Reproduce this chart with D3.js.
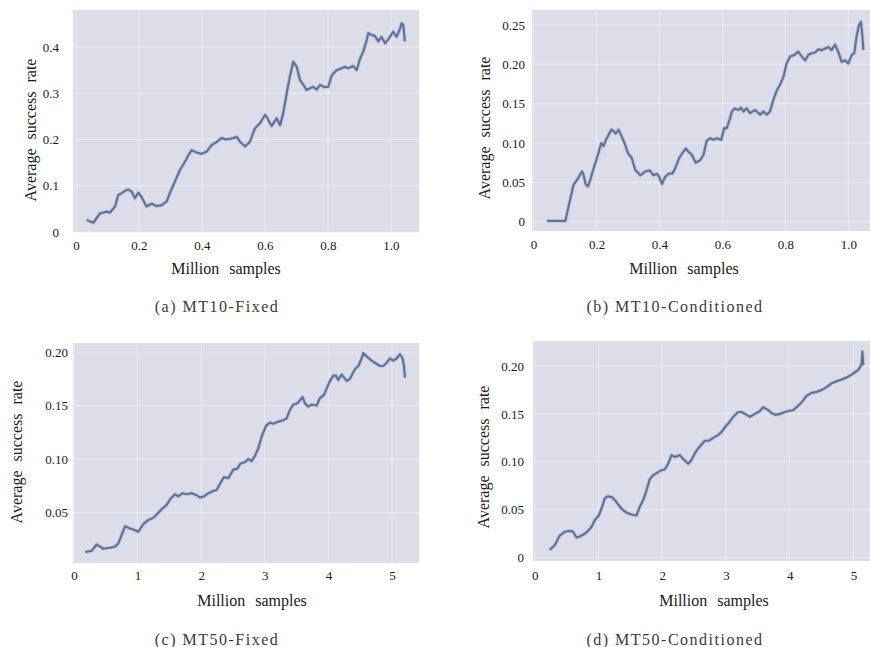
<!DOCTYPE html>
<html><head><meta charset="utf-8">
<script src="https://cdn.jsdelivr.net/npm/d3@7"></script>
<style>
html,body{margin:0;padding:0;background:#fff;}
</style></head>
<body><svg id="c" width="870" height="647"></svg>
<script>
// ---------- data ----------
const aX = [0.034,0.055,0.076,0.097,0.108,0.124,0.134,0.145,0.156,0.166,0.177,0.187,0.198,0.208,0.224,0.240,0.256,0.272,0.288,0.298,0.314,0.330,0.346,0.357,0.367,0.383,0.399,0.415,0.431,0.447,0.462,0.478,0.499,0.510,0.521,0.537,0.552,0.568,0.584,0.600,0.605,0.621,0.637,0.648,0.658,0.669,0.679,0.690,0.701,0.711,0.722,0.732,0.743,0.753,0.764,0.775,0.790,0.801,0.812,0.828,0.843,0.854,0.865,0.880,0.891,0.902,0.912,0.923,0.928,0.939,0.949,0.960,0.970,0.981,0.992,1.007,1.018,1.029,1.034,1.039,1.044];
const aY = [0.026,0.020,0.040,0.044,0.042,0.055,0.080,0.084,0.089,0.092,0.087,0.073,0.085,0.076,0.055,0.061,0.056,0.058,0.066,0.084,0.109,0.134,0.152,0.166,0.177,0.172,0.169,0.174,0.188,0.195,0.203,0.200,0.203,0.206,0.195,0.185,0.195,0.224,0.235,0.253,0.249,0.229,0.246,0.231,0.257,0.300,0.336,0.368,0.357,0.329,0.318,0.307,0.311,0.314,0.308,0.318,0.313,0.314,0.339,0.350,0.354,0.357,0.354,0.359,0.350,0.375,0.390,0.415,0.430,0.426,0.424,0.412,0.422,0.408,0.417,0.433,0.422,0.440,0.451,0.448,0.412];

const bX = [0.042,0.101,0.111,0.127,0.138,0.154,0.159,0.166,0.173,0.180,0.191,0.206,0.215,0.222,0.230,0.238,0.247,0.254,0.261,0.270,0.278,0.289,0.300,0.312,0.323,0.339,0.355,0.370,0.381,0.392,0.399,0.408,0.418,0.429,0.441,0.450,0.463,0.476,0.484,0.492,0.503,0.515,0.529,0.540,0.550,0.561,0.572,0.582,0.596,0.606,0.614,0.624,0.630,0.640,0.651,0.659,0.667,0.677,0.688,0.704,0.720,0.730,0.741,0.751,0.762,0.773,0.783,0.794,0.804,0.815,0.829,0.841,0.852,0.863,0.873,0.884,0.894,0.905,0.915,0.926,0.937,0.947,0.958,0.968,0.979,0.990,1.000,1.011,1.019,1.027,1.034,1.040,1.045,1.048];
const bY = [0.001,0.001,0.019,0.047,0.053,0.064,0.059,0.047,0.045,0.053,0.068,0.087,0.100,0.096,0.104,0.110,0.117,0.115,0.112,0.117,0.110,0.100,0.087,0.081,0.066,0.059,0.064,0.065,0.059,0.061,0.057,0.048,0.057,0.061,0.061,0.068,0.081,0.089,0.093,0.089,0.085,0.075,0.078,0.085,0.103,0.106,0.104,0.106,0.104,0.119,0.119,0.131,0.140,0.144,0.142,0.145,0.140,0.144,0.138,0.142,0.136,0.140,0.136,0.140,0.155,0.167,0.174,0.184,0.201,0.210,0.212,0.216,0.210,0.205,0.212,0.214,0.215,0.219,0.218,0.220,0.222,0.218,0.225,0.216,0.203,0.205,0.201,0.212,0.214,0.237,0.250,0.254,0.235,0.218];

const cX = [0.173,0.278,0.356,0.409,0.461,0.566,0.645,0.697,0.750,0.802,0.881,0.933,1.011,1.090,1.169,1.247,1.300,1.378,1.457,1.520,1.588,1.640,1.709,1.771,1.850,1.929,1.981,2.044,2.112,2.191,2.243,2.306,2.358,2.427,2.505,2.568,2.621,2.689,2.741,2.794,2.846,2.898,2.951,3.019,3.082,3.134,3.213,3.281,3.344,3.396,3.449,3.511,3.553,3.595,3.632,3.684,3.737,3.816,3.868,3.931,3.973,4.025,4.078,4.119,4.156,4.209,4.235,4.287,4.340,4.382,4.418,4.471,4.523,4.549,4.602,4.680,4.733,4.811,4.864,4.916,4.969,5.021,5.073,5.126,5.168,5.189,5.204];
const cY = [0.013,0.014,0.020,0.018,0.016,0.017,0.018,0.021,0.029,0.037,0.035,0.034,0.032,0.039,0.043,0.045,0.048,0.053,0.057,0.063,0.067,0.065,0.068,0.067,0.068,0.066,0.064,0.065,0.068,0.070,0.071,0.078,0.083,0.082,0.090,0.091,0.096,0.097,0.100,0.098,0.103,0.110,0.121,0.131,0.134,0.133,0.135,0.136,0.138,0.146,0.151,0.152,0.155,0.158,0.152,0.149,0.151,0.150,0.157,0.160,0.166,0.173,0.178,0.178,0.174,0.179,0.177,0.173,0.175,0.180,0.184,0.187,0.194,0.199,0.196,0.192,0.190,0.187,0.187,0.190,0.194,0.192,0.194,0.198,0.194,0.187,0.176];

const dX = [0.235,0.314,0.392,0.471,0.549,0.602,0.654,0.706,0.785,0.837,0.890,0.942,1.005,1.057,1.099,1.151,1.214,1.282,1.361,1.439,1.518,1.596,1.648,1.701,1.753,1.805,1.858,1.910,1.978,2.041,2.093,2.146,2.198,2.276,2.329,2.407,2.459,2.512,2.564,2.616,2.669,2.732,2.800,2.878,2.930,2.983,3.035,3.114,3.192,3.244,3.297,3.375,3.454,3.532,3.584,3.663,3.715,3.778,3.846,3.925,3.977,4.055,4.108,4.186,4.265,4.343,4.422,4.500,4.579,4.657,4.736,4.814,4.893,4.971,5.034,5.076,5.102,5.128,5.139,5.154];
const dY = [0.008,0.013,0.023,0.027,0.028,0.027,0.021,0.022,0.025,0.028,0.032,0.039,0.044,0.053,0.062,0.064,0.063,0.058,0.051,0.047,0.045,0.044,0.053,0.060,0.070,0.082,0.086,0.088,0.091,0.092,0.098,0.107,0.105,0.107,0.103,0.098,0.102,0.109,0.114,0.118,0.122,0.122,0.125,0.128,0.131,0.136,0.140,0.147,0.152,0.152,0.150,0.147,0.150,0.153,0.157,0.154,0.151,0.149,0.150,0.152,0.153,0.154,0.157,0.162,0.169,0.172,0.173,0.175,0.178,0.182,0.184,0.186,0.188,0.191,0.194,0.196,0.199,0.202,0.215,0.201];

// tick values & labels
const mt10XTicks = [0, 0.2, 0.4, 0.6, 0.8, 1.0];
const mt10XLabels = ["0", "0.2", "0.4", "0.6", "0.8", "1.0"];
const mt50XTicks = [0, 1, 2, 3, 4, 5];
const mt50XLabels = ["0", "1", "2", "3", "4", "5"];
const aYTicks = [0, 0.1, 0.2, 0.3, 0.4];
const aYLabels = ["0", "0.1", "0.2", "0.3", "0.4"];
const bYTicks = [0, 0.05, 0.10, 0.15, 0.20, 0.25];
const bYLabels = ["0", "0.05", "0.10", "0.15", "0.20", "0.25"];
const cYTicks = [0.05, 0.10, 0.15, 0.20];
const cYLabels = ["0.05", "0.10", "0.15", "0.20"];
const dYTicks = [0, 0.05, 0.10, 0.15, 0.20];
const dYLabels = ["0", "0.05", "0.10", "0.15", "0.20"];

const xLabelText = "Million samples";
const yLabelText = "Average success rate";
const captions = ["(a) MT10-Fixed", "(b) MT10-Conditioned", "(c) MT50-Fixed", "(d) MT50-Conditioned"];

// ---------- layout ----------
const panels = [
  {x: aX, y: aY, xt: mt10XTicks, xl: mt10XLabels, yt: aYTicks, yl: aYLabels, cap: captions[0],
   L: 73, T: 10, R: 419, B: 232, xd: [-0.0095, 1.089], yd: [0, 0.48],
   yPad: 14, xPad: 9, ylx: 30, yly: 130, xlx: 226, xly: 268, cx: 217, cy: 306},
  {x: bX, y: bY, xt: mt10XTicks, xl: mt10XLabels, yt: bYTicks, yl: bYLabels, cap: captions[1],
   L: 532, T: 10, R: 870, B: 231, xd: [-0.005, 1.069], yd: [-0.0118, 0.269],
   yPad: 7, xPad: 9, ylx: 484, yly: 128, xlx: 684, xly: 268, cx: 675, cy: 306},
  {x: cX, y: cY, xt: mt50XTicks, xl: mt50XLabels, yt: cYTicks, yl: cYLabels, cap: captions[2],
   L: 73, T: 343, R: 419, B: 563, xd: [-0.0157, 5.425], yd: [0.0027, 0.2085],
   yPad: 5, xPad: 8, ylx: 16, yly: 452, xlx: 252, xly: 600, cx: 217, cy: 639},
  {x: dX, y: dY, xt: mt50XTicks, xl: mt50XLabels, yt: dYTicks, yl: dYLabels, cap: captions[3],
   L: 533, T: 341, R: 870, B: 561, xd: [-0.0267, 5.259], yd: [-0.0035, 0.2261],
   yPad: 9, xPad: 10, ylx: 483, yly: 457, xlx: 714, xly: 600, cx: 675, cy: 639}
];

const svg = d3.select("#c");
const SERIF = "Liberation Serif";

panels.forEach(p => {
  const xs = d3.scaleLinear().domain(p.xd).range([p.L, p.R]);
  const ys = d3.scaleLinear().domain(p.yd).range([p.B, p.T]);
  const g = svg.append("g");

  g.append("rect").attr("x", p.L).attr("y", p.T)
    .attr("width", p.R - p.L).attr("height", p.B - p.T)
    .attr("fill", "#dcdde9");

  // gridlines
  g.append("g").selectAll("line").data(p.yt).join("line")
    .attr("x1", p.L).attr("x2", p.R)
    .attr("y1", d => ys(d)).attr("y2", d => ys(d))
    .attr("stroke", "#f2f2f8").attr("stroke-width", 1).attr("opacity", 0.8);
  g.append("g").selectAll("line").data(p.xt).join("line")
    .attr("y1", p.T).attr("y2", p.B)
    .attr("x1", d => xs(d)).attr("x2", d => xs(d))
    .attr("stroke", "#f2f2f8").attr("stroke-width", 1).attr("opacity", 0.6);

  // line
  const pts = p.x.map((v, i) => [v, p.y[i]]);
  const line = d3.line().x(d => xs(d[0])).y(d => ys(d[1]));
  g.append("path").datum(pts).attr("d", line)
    .attr("fill", "none").attr("stroke", "#bccbea").attr("stroke-width", 4.5)
    .attr("stroke-linejoin", "round").attr("opacity", 0.7);
  g.append("path").datum(pts).attr("d", line)
    .attr("fill", "none").attr("stroke", "#65718e").attr("stroke-width", 2.2)
    .attr("stroke-linejoin", "round");

  // axes
  const yAxis = d3.axisLeft(ys).tickValues(p.yt).tickSize(0).tickPadding(p.yPad)
    .tickFormat((d, i) => p.yl[i]);
  const ya = g.append("g").attr("transform", `translate(${p.L},0)`).call(yAxis);
  const xAxis = d3.axisBottom(xs).tickValues(p.xt).tickSize(0).tickPadding(p.xPad)
    .tickFormat((d, i) => p.xl[i]);
  const xa = g.append("g").attr("transform", `translate(0,${p.B})`).call(xAxis);
  [ya, xa].forEach(a => {
    a.attr("font-family", SERIF).attr("font-size", 13);
    a.select(".domain").remove();
    a.selectAll("text").attr("font-family", SERIF).attr("font-size", 13).attr("fill", "#1a1a1a");
  });

  g.append("text").attr("transform", `translate(${p.ylx},${p.yly}) rotate(-90)`)
    .attr("text-anchor", "middle").attr("dominant-baseline", "central")
    .attr("font-family", SERIF).attr("fill", "#1a1a1a")
    .attr("font-size", 16).attr("word-spacing", 5).text(yLabelText);
  g.append("text").attr("x", p.xlx).attr("y", p.xly)
    .attr("text-anchor", "middle").attr("dominant-baseline", "central")
    .attr("font-family", SERIF).attr("fill", "#1a1a1a")
    .attr("font-size", 16).attr("word-spacing", 6).text(xLabelText);
  g.append("text").attr("x", p.cx).attr("y", p.cy)
    .attr("text-anchor", "middle").attr("dominant-baseline", "central")
    .attr("font-family", SERIF).attr("fill", "#3a3a3a")
    .attr("font-size", 16).attr("letter-spacing", 1.5).text(p.cap);
});
</script></body></html>
